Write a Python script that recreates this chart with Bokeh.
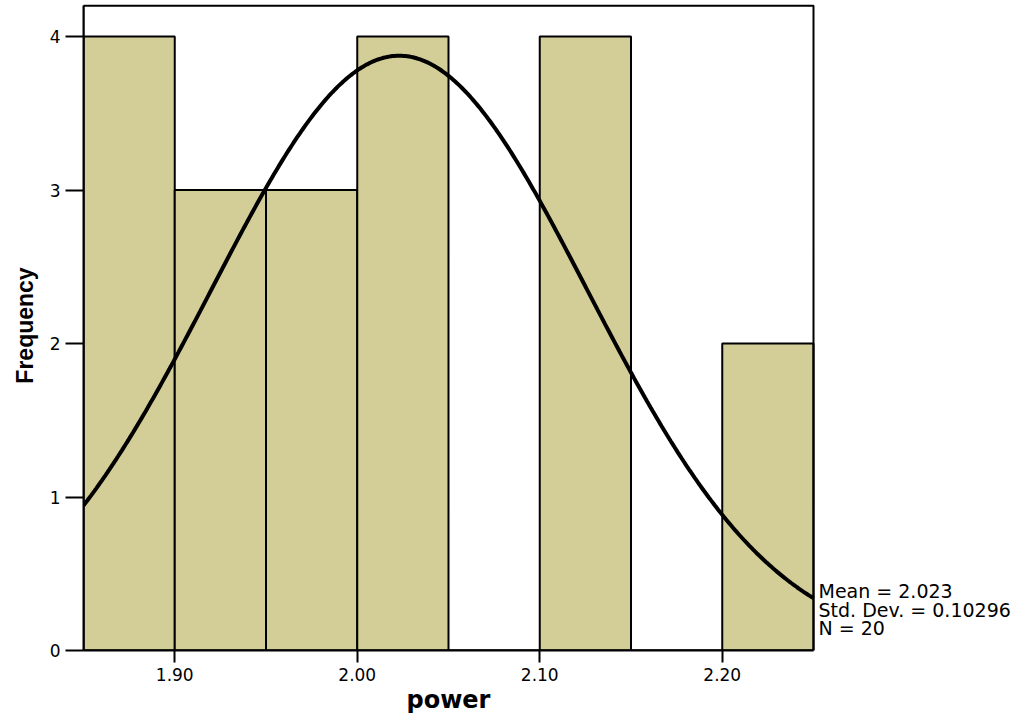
import numpy as np
from bokeh.plotting import figure
from bokeh.models import FixedTicker, Label, Range1d, Title
from bokeh.embed import file_html
from bokeh.resources import INLINE

# ---- data ----
BIN_LEFT = [1.85, 1.90, 1.95, 2.00, 2.05, 2.10, 2.15, 2.20]
BIN_RIGHT = [1.90, 1.95, 2.00, 2.05, 2.10, 2.15, 2.20, 2.25]
COUNTS = [4, 3, 3, 4, 0, 4, 0, 2]

MEAN = 2.023
STD_DEV = 0.10296
N = 20
BIN_WIDTH = 0.05

X_TICKS = [1.90, 2.00, 2.10, 2.20]
X_TICK_LABELS = ["1.90", "2.00", "2.10", "2.20"]
Y_TICKS = [0, 1, 2, 3, 4]
Y_TICK_LABELS = ["0", "1", "2", "3", "4"]

STATS_LINES = ["Mean = 2.023", "Std. Dev. = 0.10296", "N = 20"]
X_LABEL = "power"
Y_LABEL = "Frequency"

X_MIN, X_MAX = 1.85, 2.25
Y_TOP = 4.2

BAR_COLOR = "#D3CE97"

# ---- layout (pixels) ----
W, H = 1033, 719
LEFT, BOTTOM = 83, 69
BOX_PX = 730                     # width of the chart box
FRAME_W = W - LEFT
FRAME_H = H - BOTTOM
PX_PER_UNIT_Y = 153.5
X_VIEW_END = X_MIN + (X_MAX - X_MIN) * FRAME_W / BOX_PX
Y_VIEW_END = FRAME_H / PX_PER_UNIT_Y
X_LABEL_OFFSET = 323             # left edge of "power" relative to the box

# ---- normal curve fitted from the stated statistics ----
xs = np.linspace(X_MIN, X_MAX, 400)
ys = N * BIN_WIDTH / (STD_DEV * np.sqrt(2 * np.pi)) * np.exp(-0.5 * ((xs - MEAN) / STD_DEV) ** 2)

p = figure(
    width=W, height=H,
    min_border_left=LEFT, min_border_right=0, min_border_top=0, min_border_bottom=BOTTOM,
    x_range=Range1d(X_MIN, X_VIEW_END), y_range=Range1d(0, Y_VIEW_END),
    output_backend="svg", toolbar_location=None,
)
p.background_fill_color = "white"
p.border_fill_color = "white"
p.outline_line_color = None
p.xgrid.visible = False
p.ygrid.visible = False

tick_font = "DejaVu Sans"

p.xaxis.ticker = FixedTicker(ticks=X_TICKS)
p.xaxis.major_label_overrides = {t: l for t, l in zip(X_TICKS, X_TICK_LABELS)}
p.yaxis.ticker = FixedTicker(ticks=Y_TICKS)
p.yaxis.major_label_overrides = {t: l for t, l in zip(Y_TICKS, Y_TICK_LABELS)}
p.xaxis.bounds = (X_MIN, X_MAX)
p.yaxis.bounds = (0, Y_TOP)

for ax in (p.xaxis, p.yaxis):
    ax.axis_line_color = "black"
    ax.axis_line_width = 2
    ax.major_tick_line_color = "black"
    ax.major_tick_line_width = 2
    ax.major_tick_in = 0
    ax.minor_tick_line_color = None
    ax.major_label_text_font = tick_font
    ax.major_label_text_font_size = "17px"
    ax.major_label_text_color = "black"
    ax.axis_label_text_color = "black"
    ax.axis_label_text_font_style = "bold"

p.xaxis.major_tick_out = 12
p.xaxis.major_label_standoff = 5
p.yaxis.major_tick_out = 18
p.yaxis.major_label_standoff = 5

p.yaxis.axis_label = Y_LABEL
p.yaxis.axis_label_text_font = "Liberation Sans"
p.yaxis.axis_label_text_font_size = "23px"
p.yaxis.axis_label_standoff = 9

# x-axis title centred under the chart box (not under the wider frame)
p.add_layout(Title(text=X_LABEL, align="left", offset=X_LABEL_OFFSET, standoff=0,
                   text_font="DejaVu Sans", text_font_size="24px",
                   text_font_style="bold", text_color="black"), "below")

p.quad(left=BIN_LEFT, right=BIN_RIGHT, bottom=0, top=COUNTS,
       fill_color=BAR_COLOR, line_color="black", line_width=2)

p.line(xs, ys, line_color="black", line_width=4)

# chart box (top and right edges; left and bottom are the axes)
p.quad(left=[X_MIN], right=[X_MAX], bottom=[0], top=[Y_TOP],
       fill_color=None, line_color="black", line_width=2)

offsets = [60, 41, 23]
for txt, off in zip(STATS_LINES, offsets):
    p.add_layout(Label(x=X_MAX, y=0, x_offset=5, y_offset=off, text=txt,
                       text_font=tick_font, text_font_size="19px",
                       text_baseline="middle", text_align="left", text_color="black"))

open("out.html", "w").write(file_html(p, INLINE))
